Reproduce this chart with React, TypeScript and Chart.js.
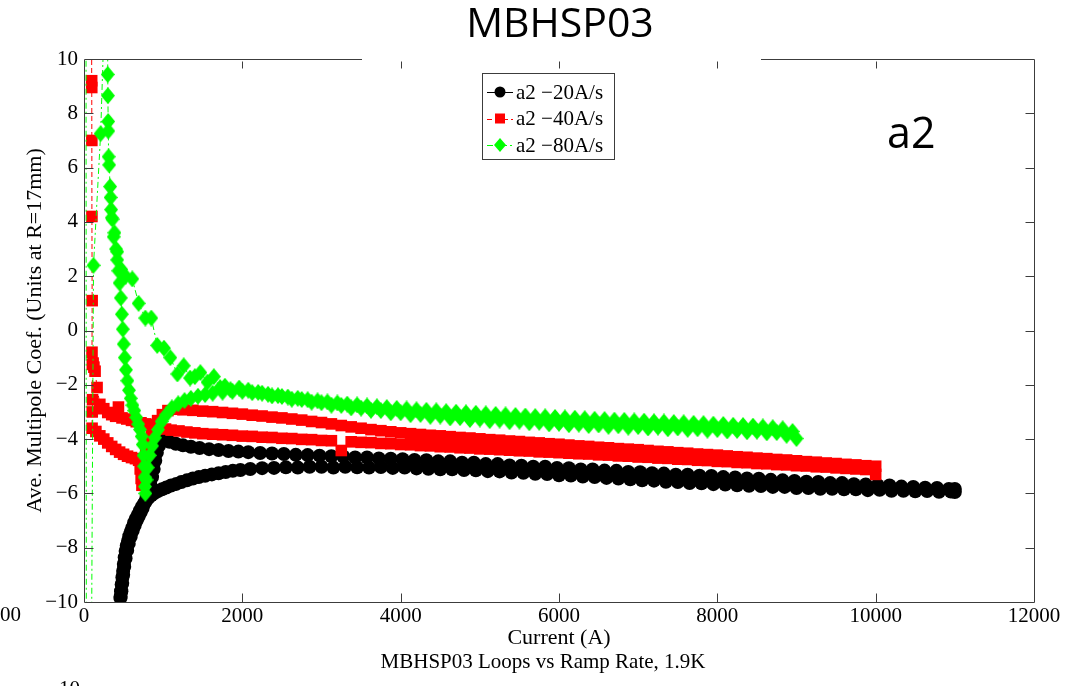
import React, { useEffect, useRef } from "react";
import { Chart, registerables } from "chart.js";

Chart.register(...registerables);

// ---------- data (current [A], a2 [units]) ----------
const X_TICKS = [0, 2000, 4000, 6000, 8000, 10000, 12000];
const Y_TICKS = [-10, -8, -6, -4, -2, 0, 2, 4, 6, 8, 10];
const SERIES_NAMES = ["a2 \u221220A/s", "a2 \u221240A/s", "a2 \u221280A/s"];
const TITLE = "MBHSP03";
const PANEL_LABEL = "a2";
const X_TITLE = "Current (A)";
const X_SUBTITLE = "MBHSP03 Loops vs Ramp Rate, 1.9K";
const Y_TITLE = "Ave. Multipole Coef. (Units at R=17mm)";

const BLACK_UP: [number, number][] = [
  [460,-9.85],[468,-9.6],[476,-9.36],[485,-9.1],[494,-8.86],[503,-8.6],[514,-8.36],[526,-8.12],[540,-7.93],[556,-7.75],
  [572,-7.58],[590,-7.42],[610,-7.26],[632,-7.08],[655,-6.93],[680,-6.79],[705,-6.64],[730,-6.5],[755,-6.39],[785,-6.27],
  [815,-6.16],[850,-6.07],[890,-5.99],[935,-5.91],[985,-5.85],[1040,-5.78],[1100,-5.71],[1165,-5.65],[1230,-5.58],[1300,-5.52],
  [1375,-5.45],[1450,-5.4],[1530,-5.35],[1615,-5.3],[1700,-5.26],[1790,-5.21],[1880,-5.17],[1975,-5.14],
  [2100,-5.10],[2250,-5.07],[2400,-5.06],[2550,-5.04],[2700,-5.05],[2850,-5.02],[3000,-5.02],[3150,-5.05],[3300,-5.02],[3450,-5.04],
  [3600,-5.05],[3750,-5.03],[3900,-5.06],[4050,-5.05],[4200,-5.08],[4350,-5.09],[4500,-5.11],[4650,-5.11],[4800,-5.14],[4950,-5.15],
  [5100,-5.18],[5250,-5.19],[5400,-5.23],[5550,-5.24],[5700,-5.28],[5850,-5.29],[6000,-5.33],[6150,-5.34],[6300,-5.38],[6450,-5.40],
  [6600,-5.43],[6750,-5.45],[6900,-5.48],[7050,-5.52],[7200,-5.53],[7350,-5.57],[7500,-5.58],[7650,-5.62],[7800,-5.63],[7950,-5.66],
  [8100,-5.67],[8250,-5.70],[8400,-5.72],[8550,-5.73],[8700,-5.76],[8850,-5.76],[9000,-5.80],[9150,-5.80],[9300,-5.83],[9450,-5.83],
  [9600,-5.85],[9750,-5.85],[9900,-5.88],[10050,-5.87],[10200,-5.90],[10350,-5.90],[10500,-5.92],[10650,-5.91],[10800,-5.94],[10950,-5.93],
  [11000,-5.95]
];

const BLACK_DOWN: [number, number][] = [
  [11000,-5.84],[10925,-5.84],[10775,-5.80],[10625,-5.79],[10475,-5.76],[10325,-5.75],[10175,-5.71],[10025,-5.70],[9875,-5.67],[9725,-5.66],
  [9575,-5.62],[9425,-5.62],[9275,-5.58],[9125,-5.57],[8975,-5.54],[8825,-5.52],[8675,-5.50],[8525,-5.46],[8375,-5.45],[8225,-5.41],
  [8075,-5.40],[7925,-5.36],[7775,-5.35],[7625,-5.31],[7475,-5.31],[7325,-5.27],[7175,-5.26],[7025,-5.22],[6875,-5.21],[6725,-5.17],
  [6575,-5.16],[6425,-5.12],[6275,-5.12],[6125,-5.07],[5975,-5.06],[5825,-5.02],[5675,-5.02],[5525,-4.98],[5375,-4.97],[5225,-4.92],
  [5075,-4.92],[4925,-4.87],[4775,-4.87],[4625,-4.82],[4475,-4.82],[4325,-4.78],[4175,-4.77],[4025,-4.74],[3875,-4.72],[3725,-4.71],
  [3575,-4.68],[3425,-4.68],[3275,-4.64],[3125,-4.63],[2975,-4.61],[2825,-4.59],[2675,-4.58],[2525,-4.55],[2375,-4.53],[2225,-4.51],
  [2075,-4.48],[1950,-4.46],[1825,-4.44],[1700,-4.40],[1580,-4.37],[1460,-4.33],[1350,-4.28],[1250,-4.23],[1160,-4.17],[1080,-4.1],
  [1020,-4.05],[975,-4.08],[945,-4.25],[920,-4.5],[900,-4.8],[880,-5.1],[860,-5.4],[838,-5.65],[815,-5.9],[790,-6.15],
  [765,-6.35],[740,-6.55],[715,-6.7],[690,-6.85],[665,-7.0],[640,-7.18],[615,-7.38],[590,-7.6],[565,-7.85],[545,-8.1],
  [525,-8.4],[508,-8.7],[495,-9.0],[483,-9.3],[472,-9.6],[463,-9.8]
];

const RED_UP: [number, number][] = [
  [95,30],[97,9.2],[98,8.95],[99,7.0],[100,4.2],[103,1.1],[101,-0.8],[105,-1.25],[108,-2.55],[104,-3.0],[102,-3.6],
  [150,-3.72],[200,-3.88],[250,-4.0],[300,-4.14],[350,-4.27],[400,-4.38],[450,-4.48],[500,-4.56],[550,-4.63],[600,-4.68],
  [650,-4.72],[690,-4.78],[710,-5.1],[722,-5.45],[732,-5.7],[745,-5.35],[760,-4.85],[780,-4.42],[810,-4.05],[850,-3.8],
  [900,-3.66],[960,-3.6],[1030,-3.63],[1100,-3.67],[1200,-3.7],[1300,-3.74],[1400,-3.77],[1500,-3.8],
  [1625,-3.82],[1750,-3.84],[1875,-3.86],[2000,-3.89],[2125,-3.9],[2250,-3.93],[2375,-3.94],[2500,-3.97],[2625,-3.98],[2750,-4.01],
  [2875,-4.02],[3000,-4.05],[3125,-4.06],[3250,-4.42],[3375,-4.1],[3500,-4.12],[3625,-4.13],[3750,-4.16],[3875,-4.17],[4000,-4.2],
  [4125,-4.21],[4250,-4.24],[4375,-4.25],[4500,-4.28],[4625,-4.29],[4750,-4.32],[4875,-4.33],[5000,-4.36],[5125,-4.37],[5250,-4.39],
  [5375,-4.41],[5500,-4.43],[5625,-4.44],[5750,-4.47],[5875,-4.48],[6000,-4.5],[6125,-4.52],[6250,-4.54],[6375,-4.55],[6500,-4.58],
  [6625,-4.59],[6750,-4.62],[6875,-4.63],[7000,-4.66],[7125,-4.67],[7250,-4.7],[7375,-4.71],[7500,-4.74],[7625,-4.75],[7750,-4.78],
  [7875,-4.79],[8000,-4.82],[8125,-4.83],[8250,-4.86],[8375,-4.87],[8500,-4.9],[8625,-4.91],[8750,-4.94],[8875,-4.95],[9000,-4.98],
  [9125,-4.99],[9250,-5.02],[9375,-5.03],[9500,-5.06],[9625,-5.08],[9750,-5.1],[9875,-5.12],[10000,-5.3]
];

const RED_DOWN: [number, number][] = [
  [10000,-5.0],[9875,-4.98],[9750,-4.95],[9625,-4.93],[9500,-4.9],[9375,-4.88],[9250,-4.85],[9125,-4.83],[9000,-4.8],[8875,-4.77],
  [8750,-4.75],[8625,-4.72],[8500,-4.7],[8375,-4.67],[8250,-4.65],[8125,-4.62],[8000,-4.59],[7875,-4.57],[7750,-4.55],[7625,-4.52],
  [7500,-4.5],[7375,-4.47],[7250,-4.45],[7125,-4.42],[7000,-4.39],[6875,-4.37],[6750,-4.35],[6625,-4.32],[6500,-4.3],[6375,-4.27],
  [6250,-4.25],[6125,-4.22],[6000,-4.19],[5875,-4.17],[5750,-4.14],[5625,-4.12],[5500,-4.09],[5375,-4.07],[5250,-4.04],[5125,-4.02],
  [5000,-3.99],[4875,-3.96],[4750,-3.94],[4625,-3.91],[4500,-3.88],[4375,-3.86],[4250,-3.83],[4125,-3.8],[4000,-3.77],[3875,-3.73],
  [3750,-3.69],[3625,-3.65],[3500,-3.6],[3375,-3.55],[3250,-3.5],[3125,-3.44],[3000,-3.39],[2875,-3.35],[2750,-3.3],[2625,-3.26],
  [2500,-3.22],[2375,-3.19],[2250,-3.15],[2125,-3.12],[2000,-3.08],[1875,-3.05],[1750,-3.02],[1625,-2.99],[1500,-2.97],[1375,-2.94],
  [1250,-2.92],[1150,-2.9],[1060,-2.95],[990,-3.1],[930,-3.32],[880,-3.48],[830,-3.47],[780,-3.44],[720,-3.4],[660,-3.36],
  [600,-3.31],[540,-3.26],[480,-3.22],[435,-2.82],[400,-3.16],[350,-3.1],[300,-3.02],[250,-2.88],[200,-2.72],[165,-2.1],
  [140,-1.5],[125,-1.35],[115,-1.2]
];

const GREEN_UP: [number, number][] = [
  [20,45],[35,-45],[120,2.4],[210,7.25],[295,15],[300,9.43],[302,8.65],[305,7.7],[307,7.35],[311,6.4],
  [318,6.1],[330,5.3],[336,4.9],[342,4.45],[350,4.15],[375,3.45],[405,3.0],[420,2.6],[435,2.2],[450,1.75],
  [465,1.2],[478,0.6],[490,0.05],[502,-0.5],[515,-1.0],[530,-1.45],[548,-1.85],[568,-2.2],[590,-2.5],[612,-2.75],
  [635,-2.95],[660,-3.2],[685,-3.45],[708,-3.65],[728,-3.9],[742,-4.2],[752,-4.6],[760,-5.0],[765,-5.4],[770,-5.75],
  [775,-6.0],[790,-5.5],[805,-5.05],[830,-4.6],[860,-4.25],[895,-3.95],[935,-3.65],[980,-3.35],[1040,-3.1],[1110,-2.85],
  [1190,-2.7],[1270,-2.58],[1350,-2.5],[1440,-2.42],[1530,-2.36],[1625,-2.31],[1750,-2.27],[1875,-2.24],[2000,-2.24],
  [2125,-2.29],[2250,-2.31],[2375,-2.41],[2500,-2.43],[2625,-2.53],[2750,-2.54],[2875,-2.64],[3000,-2.66],[3125,-2.75],[3250,-2.76],
  [3375,-2.85],[3500,-2.86],[3625,-2.94],[3750,-2.95],[3875,-3.03],[4000,-3.03],[4125,-3.1],[4250,-3.09],[4375,-3.16],[4500,-3.15],
  [4625,-3.22],[4750,-3.21],[4875,-3.28],[5000,-3.26],[5125,-3.32],[5250,-3.3],[5375,-3.36],[5500,-3.34],[5625,-3.4],[5750,-3.38],
  [5875,-3.44],[6000,-3.42],[6125,-3.47],[6250,-3.45],[6375,-3.5],[6500,-3.48],[6625,-3.53],[6750,-3.51],[6875,-3.56],[7000,-3.54],
  [7125,-3.59],[7250,-3.56],[7375,-3.62],[7500,-3.59],[7625,-3.64],[7750,-3.62],[7875,-3.67],[8000,-3.65],[8125,-3.7],[8250,-3.68],
  [8375,-3.73],[8500,-3.71],[8625,-3.77],[8750,-3.76],[8875,-3.86],[9000,-3.98]
];

const GREEN_DOWN: [number, number][] = [
  [8950,-3.72],[8825,-3.62],[8700,-3.58],[8575,-3.55],[8450,-3.52],[8325,-3.5],[8200,-3.49],[8075,-3.46],[7950,-3.45],[7825,-3.43],
  [7700,-3.42],[7575,-3.4],[7450,-3.39],[7325,-3.37],[7200,-3.36],[7075,-3.34],[6950,-3.33],[6825,-3.31],[6700,-3.3],[6575,-3.28],
  [6450,-3.27],[6325,-3.25],[6200,-3.23],[6075,-3.22],[5950,-3.2],[5825,-3.18],[5700,-3.17],[5575,-3.15],[5450,-3.13],[5325,-3.11],
  [5200,-3.09],[5075,-3.07],[4950,-3.05],[4825,-3.03],[4700,-3.01],[4575,-2.99],[4450,-2.96],[4325,-2.94],[4200,-2.92],[4075,-2.89],
  [3950,-2.87],[3825,-2.84],[3700,-2.81],[3575,-2.78],[3450,-2.74],[3325,-2.71],[3200,-2.67],[3075,-2.63],[2950,-2.59],[2825,-2.55],
  [2700,-2.5],[2575,-2.45],[2450,-2.4],[2325,-2.35],[2200,-2.28],[2075,-2.2],[1960,-2.12],[1850,-2.18],[1780,-2.05],[1720,-2.1],
  [1640,-1.7],[1560,-1.9],[1470,-1.55],[1400,-1.7],[1340,-1.75],[1260,-1.3],[1180,-1.6],[1090,-1.0],[1010,-0.65],[925,-0.55],
  [850,0.46],[775,0.46],[690,1.0],[610,1.9],[525,2.0],[470,2.25],[420,2.9],[385,3.6],[360,4.1]
];

// ---------- styles ----------
const BLACK = "#000000";
const RED = "#ff0000";
const GREEN = "#00ff00";
const SERIF = "'Liberation Serif', 'Times New Roman', serif";
const SANS = "'Open Sans', 'Noto Sans', sans-serif";
const FRAME = "#3c3c3c";

const toXY = (arr: [number, number][]) => arr.map(([x, y]) => ({ x, y }));
const fmt = (v: number) => (v < 0 ? "\u2212" + Math.abs(v) : String(v));

function makeDiamond(w: number, h: number, color: string) {
  const c = document.createElement("canvas");
  c.width = w;
  c.height = h;
  const g = c.getContext("2d")!;
  g.fillStyle = color;
  g.beginPath();
  g.moveTo(w / 2, 0);
  g.lineTo(w, h / 2);
  g.lineTo(w / 2, h);
  g.lineTo(0, h / 2);
  g.closePath();
  g.fill();
  return c;
}

function drawMarker(ctx: CanvasRenderingContext2D, kind: number, x: number, y: number) {
  ctx.save();
  if (kind === 0) {
    ctx.fillStyle = BLACK;
    ctx.beginPath();
    ctx.arc(x, y, 5.5, 0, Math.PI * 2);
    ctx.fill();
  } else if (kind === 1) {
    ctx.fillStyle = RED;
    ctx.fillRect(x - 5, y - 5, 10, 10);
  } else {
    ctx.fillStyle = GREEN;
    ctx.beginPath();
    ctx.moveTo(x, y - 7);
    ctx.lineTo(x + 6, y);
    ctx.lineTo(x, y + 7);
    ctx.lineTo(x - 6, y);
    ctx.closePath();
    ctx.fill();
  }
  ctx.restore();
}

const decorPlugin = {
  id: "decor",
  afterDatasetsDraw(chart: any) {
    const ctx: CanvasRenderingContext2D = chart.ctx;
    const { left, right, top, bottom } = chart.chartArea;
    const xs = chart.scales.x;
    const ys = chart.scales.y;
    const L = Math.round(left) + 0.5;
    const R = Math.round(right) + 0.5;
    const T = Math.round(top) + 0.5;
    const B = Math.round(bottom) + 0.5;
    ctx.save();
    ctx.strokeStyle = FRAME;
    ctx.lineWidth = 1;
    ctx.beginPath();
    ctx.moveTo(L, T);
    ctx.lineTo(L, B);
    ctx.lineTo(R, B);
    ctx.lineTo(R, T);
    ctx.lineTo(761, T);
    ctx.moveTo(362, T);
    ctx.lineTo(L, T);
    const tl = 9;
    X_TICKS.forEach((v) => {
      if (v === X_TICKS[0] || v === X_TICKS[X_TICKS.length - 1]) return;
      const px = Math.round(xs.getPixelForValue(v)) + 0.5;
      ctx.moveTo(px, B);
      ctx.lineTo(px, B - tl);
      ctx.moveTo(px, T + 2);
      ctx.lineTo(px, T + tl);
    });
    Y_TICKS.forEach((v) => {
      if (v === Y_TICKS[0] || v === Y_TICKS[Y_TICKS.length - 1]) return;
      const py = Math.round(ys.getPixelForValue(v)) + 0.5;
      ctx.moveTo(L, py);
      ctx.lineTo(L + tl, py);
      ctx.moveTo(R, py);
      ctx.lineTo(R - tl, py);
    });
    ctx.stroke();
    ctx.restore();
  },
  afterDraw(chart: any) {
    const ctx: CanvasRenderingContext2D = chart.ctx;
    const { left, right, top, bottom } = chart.chartArea;
    ctx.save();
    ctx.fillStyle = "#000";
    ctx.font = `41px ${SANS}`;
    ctx.textAlign = "center";
    ctx.textBaseline = "alphabetic";
    ctx.fillText(TITLE, 560, 37);
    ctx.font = `43px ${SANS}`;
    ctx.textAlign = "left";
    ctx.fillText(PANEL_LABEL, 887, 148);
    ctx.font = `22px ${SERIF}`;
    ctx.textAlign = "center";
    ctx.textBaseline = "middle";
    ctx.fillText(X_TITLE, (left + right) / 2, 638);
    ctx.font = `21px ${SERIF}`;
    ctx.fillText(X_SUBTITLE, 543, 662);
    ctx.save();
    ctx.translate(35, (top + bottom) / 2);
    ctx.rotate(-Math.PI / 2);
    ctx.font = `22px ${SERIF}`;
    ctx.fillText(Y_TITLE, 0, 0);
    ctx.restore();
    ctx.font = `21px ${SERIF}`;
    ctx.textAlign = "right";
    ctx.fillText("000", 21, 615);
    ctx.textBaseline = "top";
    ctx.fillText("\u221210", 80, 679);
    const bx = 482.5, by = 73.5, bw = 132, bh = 86;
    ctx.fillStyle = "#fff";
    ctx.fillRect(bx, by, bw, bh);
    ctx.strokeStyle = FRAME;
    ctx.lineWidth = 1;
    ctx.strokeRect(bx, by, bw, bh);
    const rows = [92, 118.5, 145];
    const colors = [BLACK, RED, GREEN];
    const dashes = [[], [5, 3], [6, 3, 2, 3]];
    SERIES_NAMES.forEach((name, i) => {
      const y = rows[i];
      ctx.save();
      ctx.strokeStyle = colors[i];
      ctx.setLineDash(dashes[i]);
      ctx.beginPath();
      ctx.moveTo(487, Math.round(y) + 0.5);
      ctx.lineTo(513, Math.round(y) + 0.5);
      ctx.stroke();
      ctx.restore();
      drawMarker(ctx, i, 500, y);
      ctx.fillStyle = "#000";
      ctx.font = `21px ${SERIF}`;
      ctx.textAlign = "left";
      ctx.textBaseline = "middle";
      ctx.fillText(name, 516, y + 1);
    });
    ctx.restore();
  },
};

export default function App() {
  const ref = useRef<HTMLCanvasElement>(null);
  useEffect(() => {
    const diamond = makeDiamond(14, 17, GREEN);
    const chart = new Chart(ref.current!, {
      type: "scatter",
      data: {
        datasets: [
          {
            label: SERIES_NAMES[0],
            data: toXY([...BLACK_UP, ...BLACK_DOWN]),
            showLine: true,
            borderColor: BLACK,
            borderWidth: 1,
            backgroundColor: BLACK,
            pointStyle: "circle",
            pointRadius: 7,
            pointBorderWidth: 0,
            order: 3,
          },
          {
            label: SERIES_NAMES[1],
            data: toXY([...RED_UP, ...RED_DOWN]),
            showLine: true,
            borderColor: RED,
            borderWidth: 1,
            borderDash: [5, 3],
            backgroundColor: RED,
            pointStyle: "rect",
            pointRadius: 8.2,
            pointBorderWidth: 0,
            order: 2,
          },
          {
            label: SERIES_NAMES[2],
            data: toXY([...GREEN_UP, ...GREEN_DOWN]),
            showLine: true,
            borderColor: GREEN,
            borderWidth: 1,
            borderDash: [6, 3, 2, 3],
            backgroundColor: GREEN,
            pointStyle: diamond as any,
            pointRadius: 8,
            pointBorderWidth: 0,
            order: 1,
          },
        ],
      },
      options: {
        responsive: false,
        animation: false,
        events: [],
        layout: { padding: { left: 0, right: 58, top: 59, bottom: 0 } },
        plugins: { legend: { display: false }, tooltip: { enabled: false }, title: { display: false } },
        scales: {
          x: {
            type: "linear",
            min: 0,
            max: 12000,
            grid: { display: false, drawTicks: false },
            border: { display: false },
            afterFit: (s: any) => { s.height = 84; },
            afterBuildTicks: (s: any) => { s.ticks = X_TICKS.map((v) => ({ value: v })); },
            ticks: {
              autoSkip: false,
              maxRotation: 0,
              padding: 2,
              color: "#000",
              font: { family: SERIF, size: 21 },
              callback: (v: any) => fmt(Number(v)),
            },
          },
          y: {
            type: "linear",
            min: -10,
            max: 10,
            grid: { display: false, drawTicks: false },
            border: { display: false },
            afterFit: (s: any) => { s.width = 84; },
            afterBuildTicks: (s: any) => { s.ticks = Y_TICKS.map((v) => ({ value: v })); },
            ticks: {
              autoSkip: false,
              padding: 6,
              color: "#000",
              font: { family: SERIF, size: 21 },
              callback: (v: any) => fmt(Number(v)),
            },
          },
        },
      },
      plugins: [decorPlugin],
    } as any);
    return () => chart.destroy();
  }, []);
  return (
    <div style={{ position: "absolute", left: 0, top: 0, width: 1092, height: 686, background: "#fff", overflow: "hidden" }}>
      <canvas ref={ref} width={1092} height={686} style={{ display: "block", width: 1092, height: 686 }} />
    </div>
  );
}
